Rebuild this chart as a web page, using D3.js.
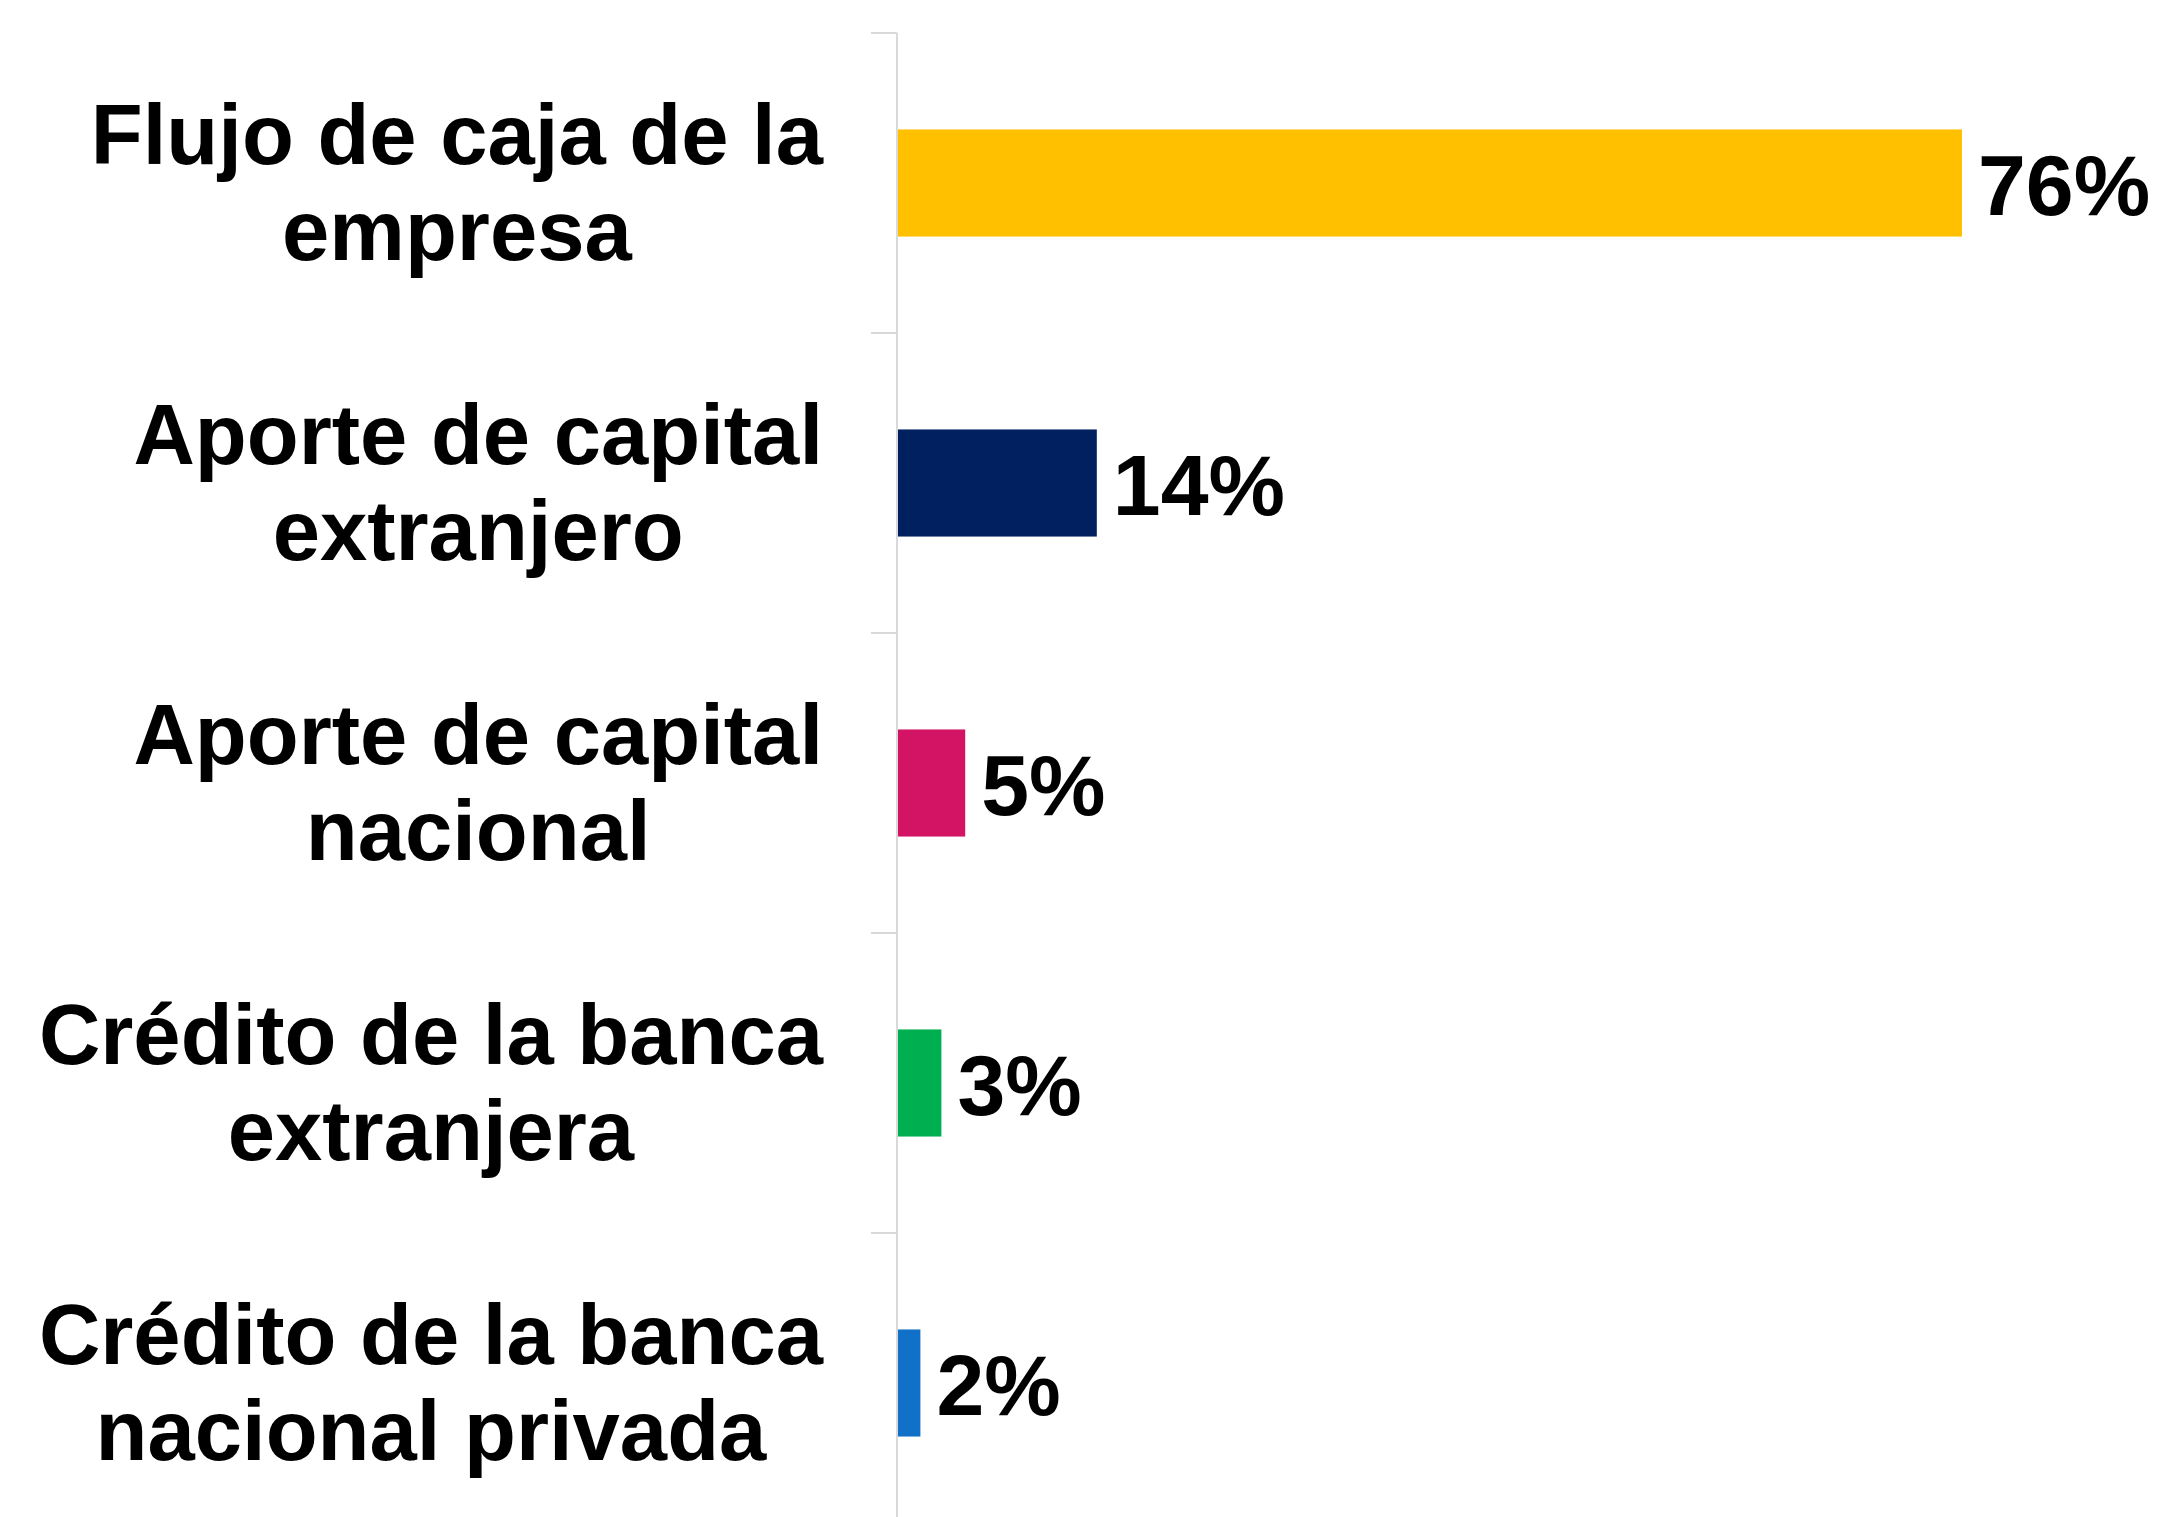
<!DOCTYPE html>
<html>
<head>
<meta charset="utf-8">
<script src="https://cdn.jsdelivr.net/npm/d3@7"></script>
<style>
  html, body { margin: 0; padding: 0; background: #FFFFFF; }
  svg { display: block; font-family: "Liberation Sans", Arial, sans-serif; }
</style>
</head>
<body>
<div class="visual-data"></div>
<script>
const width = 2157;
const height = 1517;

// data
const categories = [
  "Flujo de caja de la empresa",
  "Aporte de capital extranjero",
  "Aporte de capital nacional",
  "Crédito de la banca extranjera",
  "Crédito de la banca nacional privada"
];
const categoryLines = [
  ["Flujo de caja de la", "empresa"],
  ["Aporte de capital", "extranjero"],
  ["Aporte de capital", "nacional"],
  ["Crédito de la banca", "extranjera"],
  ["Crédito de la banca", "nacional privada"]
];
const values = [76, 14.2, 4.8, 3.1, 1.6];
const valueLabels = ["76%", "14%", "5%", "3%", "2%"];
const barColors = ["#FFC000", "#002060", "#D31465", "#00B050", "#1170C8"];

const axisX = 897;
const plotTop = 33;
const plotBottom = 1533;
const labelRight = 823;

var svg = d3.select(".visual-data")
            .append("svg")
            .attr("width", width)
            .attr("height", height)
            .style("background-color", "#FFFFFF");

// scales
const yScale = d3.scaleBand()
                 .domain(categories)
                 .range([plotTop, plotBottom])
                 .paddingInner(0.643)
                 .paddingOuter(0.3215);
const xScale = d3.scaleLinear()
                 .domain([0, 90])
                 .range([axisX + 1, axisX + 1 + 14 * 90]);

const step = yScale.step();
const half = yScale.bandwidth() / 2;

// axis line + ticks at category boundaries
svg.append("line")
   .attr("x1", axisX).attr("x2", axisX)
   .attr("y1", plotTop).attr("y2", plotBottom)
   .attr("stroke", "#D9D9D9")
   .attr("stroke-width", 2);

const boundaries = categories.map(c => yScale(c) + half - step / 2);
boundaries.push(boundaries[boundaries.length - 1] + step);
svg.selectAll(".tick-line")
   .data(boundaries)
   .enter()
   .append("line")
   .attr("class", "tick-line")
   .attr("x1", axisX - 26).attr("x2", axisX)
   .attr("y1", d => d).attr("y2", d => d)
   .attr("stroke", "#D9D9D9")
   .attr("stroke-width", 2);

// bars
svg.selectAll(".bar")
   .data(values)
   .enter()
   .append("rect")
   .attr("class", "bar")
   .attr("x", xScale(0))
   .attr("y", (d, i) => yScale(categories[i]))
   .attr("width", d => xScale(d) - xScale(0))
   .attr("height", yScale.bandwidth())
   .style("fill", (d, i) => barColors[i]);

// value labels
svg.selectAll(".value-label")
   .data(values)
   .enter()
   .append("text")
   .attr("class", "value-label")
   .attr("x", d => xScale(d) + 16)
   .attr("y", (d, i) => yScale(categories[i]) + half)
   .attr("dy", "0.37em")
   .style("font-size", "86px")
   .style("font-weight", "bold")
   .style("fill", "#000000")
   .text((d, i) => valueLabels[i]);

// category labels: block right-aligned, lines centred on each other
const lineGap = 96;
categoryLines.forEach((lines, i) => {
  const cy = yScale(categories[i]) + half;
  const t = svg.append("text")
               .attr("class", "cat-label")
               .attr("text-anchor", "middle")
               .style("font-size", "85px")
               .style("font-weight", "bold")
               .style("fill", "#000000");
  const spans = lines.map((line, j) =>
    t.append("tspan")
     .attr("y", cy + 29 + (j - (lines.length - 1) / 2) * lineGap)
     .text(line));
  const maxW = d3.max(spans, s => s.node().getComputedTextLength());
  spans.forEach(s => s.attr("x", labelRight - maxW / 2));
});
</script>
</body>
</html>
